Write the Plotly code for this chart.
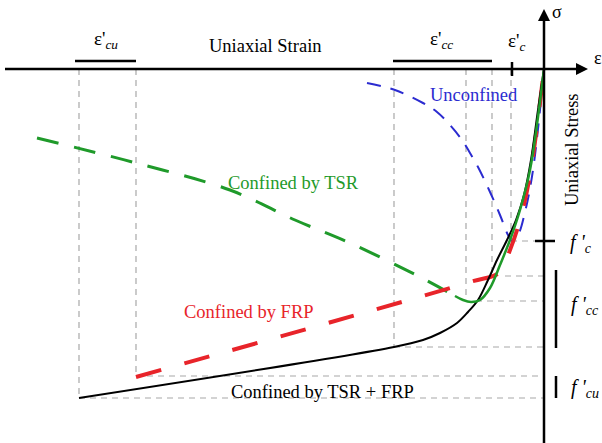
import plotly.graph_objects as go

# origin of the schematic sits at pixel (544, 69); units below are offsets from it
OX, OY = 544, 69

# curve points (strain, stress)
tsr_frp_eps = [544, 538, 531, 524, 516, 507, 497, 488, 478, 468, 457, 440, 423, 394, 79]
tsr_frp_sig = [69, 110, 160, 195, 220, 240, 260, 280, 300, 312, 323, 333, 340, 347, 398]

tsr_dash_eps = [37, 136, 230, 295, 350, 418, 455]
tsr_dash_sig = [138, 163, 190, 220, 243, 276, 296]
tsr_solid_eps = [455, 463, 471, 480, 490, 500, 510, 520, 530, 544]
tsr_solid_sig = [296, 300, 302, 300, 288, 265, 240, 210, 170, 69]

frp_eps = [136, 470, 500, 510, 520, 530, 544]
frp_sig = [377, 282, 272, 250, 220, 175, 69]

unconf_eps = [367, 395, 423, 437, 450, 462, 470, 478, 490, 500, 508, 512, 518, 525, 533, 544]
unconf_sig = [83, 90, 103, 112, 125, 140, 153, 167, 192, 215, 235, 241, 235, 212, 170, 69]

# guide lines
vguide_x = [79, 136, 394, 466, 492, 511]
vguide_bottom = [398, 376, 347, 301, 276, 241]
hguide_y = [241, 276, 301, 347, 376, 398]
hguide_left = [511, 505, 476, 394, 136, 79]


def ex(v):
    return [p - OX for p in v]


def sy(v):
    return [OY - p for p in v]


fig = go.Figure()

gx, gy = [], []
for x, b in zip(vguide_x, vguide_bottom):
    gx += [x - OX, x - OX, None]
    gy += [0, OY - b, None]
for y, l in zip(hguide_y, hguide_left):
    gx += [l - OX, 0, None]
    gy += [OY - y, OY - y, None]
fig.add_trace(go.Scatter(x=gx, y=gy, mode="lines",
                         line=dict(color="#a8a8a8", width=1.2, dash="6px,5px")))

fig.add_trace(go.Scatter(x=ex(unconf_eps), y=sy(unconf_sig), mode="lines",
                         line=dict(color="#2b2bd0", width=2, dash="14px,10px", shape="spline")))
fig.add_trace(go.Scatter(x=ex(tsr_dash_eps), y=sy(tsr_dash_sig), mode="lines",
                         line=dict(color="#1f9a2a", width=3, dash="22px,16px", shape="spline")))
fig.add_trace(go.Scatter(x=ex(frp_eps), y=sy(frp_sig), mode="lines",
                         line=dict(color="#e8242a", width=4, dash="26px,24px", shape="spline")))
fig.add_trace(go.Scatter(x=ex(tsr_frp_eps), y=sy(tsr_frp_sig), mode="lines",
                         line=dict(color="black", width=2, shape="spline")))
fig.add_trace(go.Scatter(x=ex(tsr_solid_eps), y=sy(tsr_solid_sig), mode="lines",
                         line=dict(color="#1f9a2a", width=2.5, shape="spline")))

# range bars and tick marks
bx = [75 - OX, 136 - OX, None, 393 - OX, 492 - OX, None, 512 - OX, 512 - OX, None,
      556 - OX, 556 - OX, None, 556 - OX, 556 - OX, None, 535 - OX, 555 - OX]
by = [OY - 61, OY - 61, None, OY - 61, OY - 61, None, OY - 62, OY - 76, None,
      OY - 270, OY - 348, None, OY - 376, OY - 398, None, OY - 241, OY - 241]
fig.add_trace(go.Scatter(x=bx, y=by, mode="lines", line=dict(color="black", width=2.5)))

# axes
fig.add_trace(go.Scatter(x=[5 - OX, 578 - OX, None, 0, 0], y=[0, 0, None, OY - 443, OY - 20],
                         mode="lines", line=dict(color="black", width=2.5)))
fig.add_annotation(x=588 - OX, y=0, ax=570 - OX, ay=0, xref="x", yref="y", axref="x", ayref="y",
                   showarrow=True, arrowhead=2, arrowsize=1.2, arrowwidth=2,
                   arrowcolor="black", text="")
fig.add_annotation(x=0, y=OY - 9, ax=0, ay=OY - 28, xref="x", yref="y", axref="x", ayref="y",
                   showarrow=True, arrowhead=2, arrowsize=1.2, arrowwidth=2,
                   arrowcolor="black", text="")

serif = "Liberation Serif"
labels = [
    (265, 46, "Uniaxial Strain", "black", 18.5, 0),
    (572, 150, "Uniaxial Stress", "black", 18.5, -90),
    (474, 95, "Unconfined", "#2b2bd0", 18.5, 0),
    (293, 183, "Confined by TSR", "#1f9a2a", 18.5, 0),
    (249, 312, "Confined by FRP", "#e8242a", 18.5, 0),
    (322, 392, "Confined by TSR + FRP", "black", 18.5, 0),
    (106, 40, "ε'<i><sub>cu</sub></i>", "black", 19, 0),
    (441, 40, "ε'<i><sub>cc</sub></i>", "black", 19, 0),
    (516, 42, "ε'<i><sub>c</sub></i>", "black", 19, 0),
    (557, 12, "σ", "black", 18, 0),
    (598, 58, "ε", "black", 18, 0),
    (581, 243, "<i>f '<sub>c</sub></i>", "black", 20, 0),
    (585, 305, "<i>f '<sub>cc</sub></i>", "black", 20, 0),
    (585, 388, "<i>f '<sub>cu</sub></i>", "black", 20, 0),
]
for px, py, t, c, s, a in labels:
    fig.add_annotation(x=px - OX, y=OY - py, text=t, showarrow=False, textangle=a,
                       font=dict(family=serif, size=s, color=c))

fig.update_layout(
    width=602, height=443, margin=dict(l=0, r=0, t=0, b=0),
    plot_bgcolor="white", paper_bgcolor="white", showlegend=False,
    xaxis=dict(range=[-OX, 602 - OX], visible=False),
    yaxis=dict(range=[OY - 443, OY], visible=False),
)
fig.write_html("out.html", config={"displayModeBar": False},
               post_script="document.body.style.margin='0';")
